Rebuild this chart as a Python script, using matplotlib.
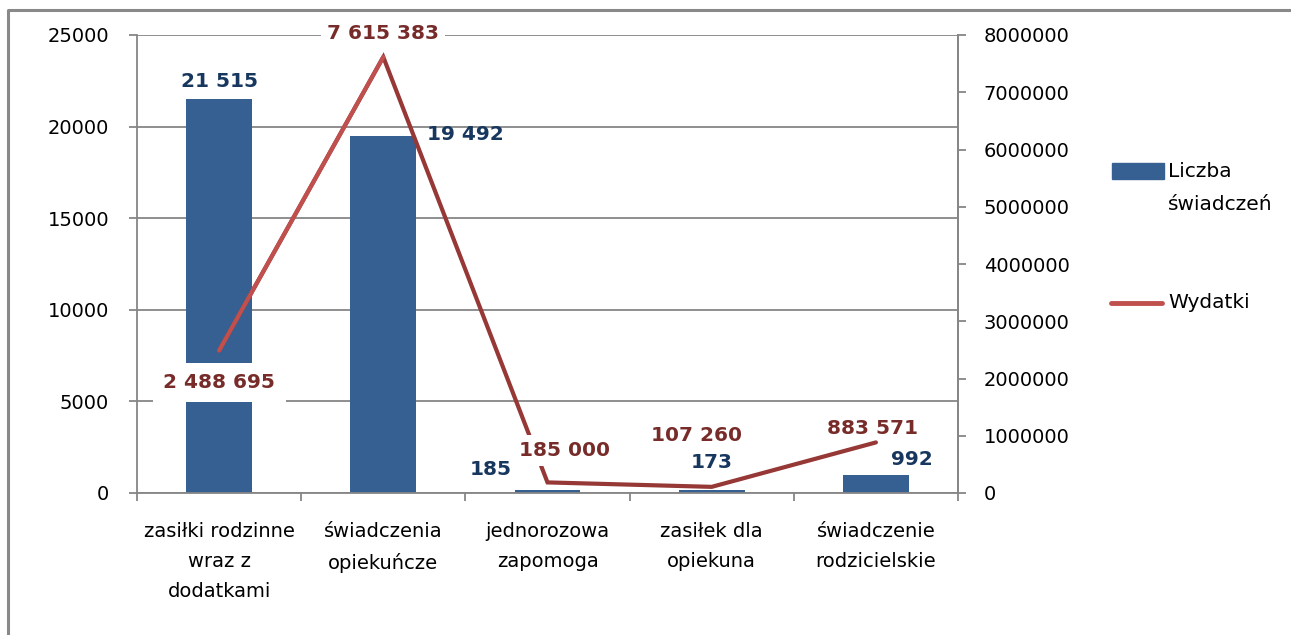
import numpy as np
import matplotlib
matplotlib.use("Agg")
import matplotlib.pyplot as plt
from matplotlib.lines import Line2D
from matplotlib.patches import Rectangle

# dane
kategorie = ["zasiłki rodzinne\nwraz z\ndodatkami", "świadczenia\nopiekuńcze",
             "jednorozowa\nzapomoga", "zasiłek dla\nopiekuna", "świadczenie\nrodzicielskie"]
liczba = [21515, 19492, 185, 173, 992]
wydatki = [2488695, 7615383, 185000, 107260, 883571]
ticks_lewa = [0, 5000, 10000, 15000, 20000, 25000]
ticks_prawa = [0, 1000000, 2000000, 3000000, 4000000, 5000000, 6000000, 7000000, 8000000]

NIEBIESKI = "#376092"
CZERWONY = "#C0504D"
CZERWONY_CIEMNY = "#963836"
ETYKIETA_SLUPEK = "#17375E"
ETYKIETA_LINIA = "#772C2A"
SZARY = "#868686"

# przesunięcia etykiet w pikselach
off_slupki = [(0, 17), (82, 1), (-57, 20), (0, 27), (36, 15)]
off_linia = [(0, -32), (0, 24), (17, 32), (-15, 51), (-3, 14)]
pad_linia = [0.52, 0.3, 0.3, 0.3, 0.1]


def fmt(v):
    return f"{v:,}".replace(",", " ")


plt.rcParams["font.family"] = ["DejaVu Sans"]

W, H = 1291, 635
fig = plt.figure(figsize=(W / 100, H / 100), dpi=100)
ax1 = fig.add_axes([137 / W, 1 - 493 / H, (958 - 137) / W, (493 - 35) / H])
ax2 = ax1.twinx()

x = np.arange(len(kategorie))

# słupki - liczba świadczeń
ax1.bar(x, liczba, width=0.4, color=NIEBIESKI, zorder=2)
ax1.set_xlim(-0.5, len(kategorie) - 0.5)
ax1.set_ylim(ticks_lewa[0], ticks_lewa[-1])
ax1.set_yticks(ticks_lewa, labels=[str(t) for t in ticks_lewa])
ax1.set_xticks(np.arange(-0.5, len(kategorie), 1))
ax1.set_xticklabels([])
ax1.set_xticks(x, minor=True)
ax1.set_xticklabels(kategorie, minor=True, linespacing=1.72)
ax1.tick_params(axis="x", which="major", length=6, width=1.3, color=SZARY)
ax1.tick_params(axis="x", which="minor", length=0, pad=21, labelsize=14)
ax1.tick_params(axis="y", length=6, width=1.3, color=SZARY, pad=14, labelsize=14)
ax1.yaxis.grid(True, color=SZARY, lw=1.3)
ax1.set_axisbelow(True)
ax1.spines["top"].set_visible(False)
for s in ["left", "right", "bottom"]:
    ax1.spines[s].set_color(SZARY)
    ax1.spines[s].set_linewidth(1.3)

for xi, v, off in zip(x, liczba, off_slupki):
    ax1.annotate(fmt(v), (xi, v), xytext=off, textcoords="offset pixels",
                 ha="center", va="center", fontsize=14.5, fontweight="bold",
                 color=ETYKIETA_SLUPEK, zorder=5)

# linia - wydatki
ax2.plot(x, wydatki, color=CZERWONY_CIEMNY, lw=3, solid_capstyle="round", solid_joinstyle="miter")
ax2.plot(x[:2], wydatki[:2], color=CZERWONY, lw=3, solid_capstyle="round")
ax2.set_ylim(ticks_prawa[0], ticks_prawa[-1])
ax2.set_yticks(ticks_prawa, labels=[str(t) for t in ticks_prawa])
ax2.tick_params(axis="y", length=6, width=1.3, color=SZARY, pad=12.5, labelsize=14)
for s in ["left", "top", "bottom"]:
    ax2.spines[s].set_visible(False)
ax2.spines["right"].set_color(SZARY)
ax2.spines["right"].set_linewidth(1.3)

for xi, v, off, pad in zip(x, wydatki, off_linia, pad_linia):
    ax2.annotate(fmt(v), (xi, v), xytext=off, textcoords="offset pixels",
                 ha="center", va="center", fontsize=14.5, fontweight="bold",
                 color=ETYKIETA_LINIA, zorder=5,
                 bbox=dict(boxstyle=f"square,pad={pad}", fc="white", ec="none"))

# legenda
fig.add_artist(Rectangle((1112 / W, 1 - 179 / H), 52 / W, 16 / H,
                         transform=fig.transFigure, color=NIEBIESKI))
fig.text(1168 / W, 1 - 162 / H, "Liczba\nświadczeń", fontsize=14.5, va="top",
         linespacing=1.95, transform=fig.transFigure)
fig.add_artist(Line2D([1111 / W, 1162 / W], [1 - 303 / H, 1 - 303 / H],
                      transform=fig.transFigure, color=CZERWONY, lw=3.5,
                      solid_capstyle="round"))
fig.text(1168 / W, 1 - 303 / H, "Wydatki", fontsize=14.5, va="center",
         transform=fig.transFigure)

# ramka wykresu
fig.add_artist(Line2D([8 / W, 8 / W, 1.0], [0.0, 1 - 10 / H, 1 - 10 / H],
                      transform=fig.transFigure, color="#898989", lw=2.2))

fig.savefig("out.png", dpi=100)
